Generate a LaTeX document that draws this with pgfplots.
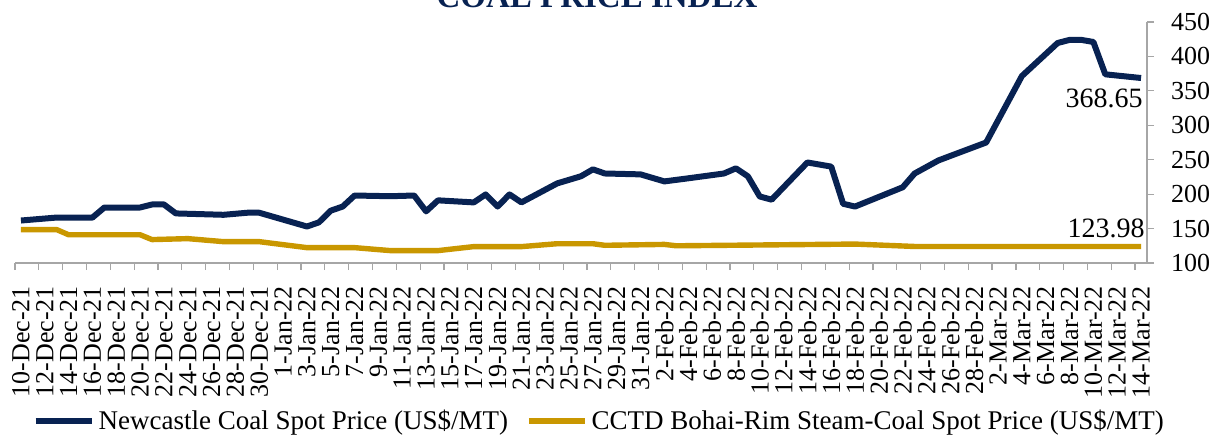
\documentclass[border=0pt]{standalone}
\usepackage{fontspec}
\setmainfont{Liberation Serif}
\usepackage{pgfplots}
\pgfplotsset{compat=1.18}
\definecolor{navy}{RGB}{8,34,82}
\definecolor{gold}{RGB}{201,151,0}
\definecolor{axgray}{RGB}{166,166,166}
\begin{document}
\begin{tikzpicture}
\path[use as bounding box] (0,0) rectangle (609pt,217pt);
\begin{axis}[
  at={(7.5pt,85.5pt)}, anchor=south west,
  width=566pt, height=120.5pt, scale only axis,
  xmin=-0.5, xmax=94.5, ymin=100, ymax=450,
  clip=false,
  axis x line*=bottom, axis y line*=right,
  axis line style={draw=axgray, line width=0.6pt, -},
  tick style={draw=axgray, line width=0.6pt},
  tick align=outside,
  major tick length=3.5pt,
  xtick={-0.5,1.5,...,94.5}, xticklabels={},
  extra x ticks={0,2,...,94},
  extra x tick labels={10-Dec-21,12-Dec-21,14-Dec-21,16-Dec-21,18-Dec-21,20-Dec-21,22-Dec-21,24-Dec-21,26-Dec-21,28-Dec-21,30-Dec-21,1-Jan-22,3-Jan-22,5-Jan-22,7-Jan-22,9-Jan-22,11-Jan-22,13-Jan-22,15-Jan-22,17-Jan-22,19-Jan-22,21-Jan-22,23-Jan-22,25-Jan-22,27-Jan-22,29-Jan-22,31-Jan-22,2-Feb-22,4-Feb-22,6-Feb-22,8-Feb-22,10-Feb-22,12-Feb-22,14-Feb-22,16-Feb-22,18-Feb-22,20-Feb-22,22-Feb-22,24-Feb-22,26-Feb-22,28-Feb-22,2-Mar-22,4-Mar-22,6-Mar-22,8-Mar-22,10-Mar-22,12-Mar-22,14-Mar-22},
  extra x tick style={major tick length=0pt, tick style={draw=none}, tick label style={rotate=90, anchor=east, xshift=-8pt, font=\fontsize{13}{15}\selectfont}},
  ytick={100,150,...,450},
  yticklabel style={anchor=west, xshift=5pt, font=\fontsize{13}{15}\selectfont},
  /pgf/number format/assume math mode=true,
  legend style={at={(0.517,-0.655)}, anchor=center, draw=none, fill=none,
    legend columns=2, font=\fontsize{13.5}{16}\selectfont,
    /tikz/every even column/.append style={column sep=7pt}},
  legend cell align=left,
  legend image code/.code={\draw[#1] (0pt,0pt) -- (28pt,0pt);},
]
\addplot[navy, line width=3pt, line join=round] coordinates {
(0,161.7)(3,166)(6,166)(7,180.6)(10,180.6)(11,185)(12,185)(13,172)(17,170)(19,173)(20,173)(24,153)(25,159)(26,176)(27,182)(28,198)(31,197)(33,198)(34,175)(35,191)(38,188)(39,199.6)(40,182)(41,199.6)(42,188)(45,215.6)(47,226)(48,236)(49,230)(52,228.7)(54,218.5)(56,223)(59,230)(60,237.5)(61,226)(62,196.6)(63,192)(66,246)(68,240)(69,186)(70,182)(74,210)(75,230)(77,249)(81,275)(84,371.5)(87,419.5)(88,424)(89,424)(90,421)(91,374)(94,368.65)
};
\addlegendentry{Newcastle Coal Spot Price (US\$/MT)}
\addplot[gold, line width=2.7pt, line join=round] coordinates {
(0,148.5)(3,148.5)(4,141)(10,141)(11,134)(14,135.4)(17,131)(20,131)(24,122.3)(28,122.3)(31,118)(35,118)(38,123.8)(42,123.8)(45,128)(48,128)(49,125.7)(54,127)(55,125)(70,127.5)(75,124)(94,123.98)
};
\addlegendentry{CCTD Bohai-Rim Steam-Coal Spot Price (US\$/MT)}
\node[anchor=north east, inner sep=0, xshift=1pt, yshift=-5pt, font=\fontsize{14}{16}\selectfont] at (axis cs:94,368.65) {368.65};
\node[anchor=south east, inner sep=0, xshift=2pt, yshift=4.3pt, font=\fontsize{14}{16}\selectfont] at (axis cs:94,123.98) {123.98};
\end{axis}
\node[anchor=base, inner sep=0, text=navy, font=\fontsize{16.5}{20}\selectfont\bfseries] at (298.5pt,213.25pt) {COAL PRICE INDEX};
\end{tikzpicture}
\end{document}
